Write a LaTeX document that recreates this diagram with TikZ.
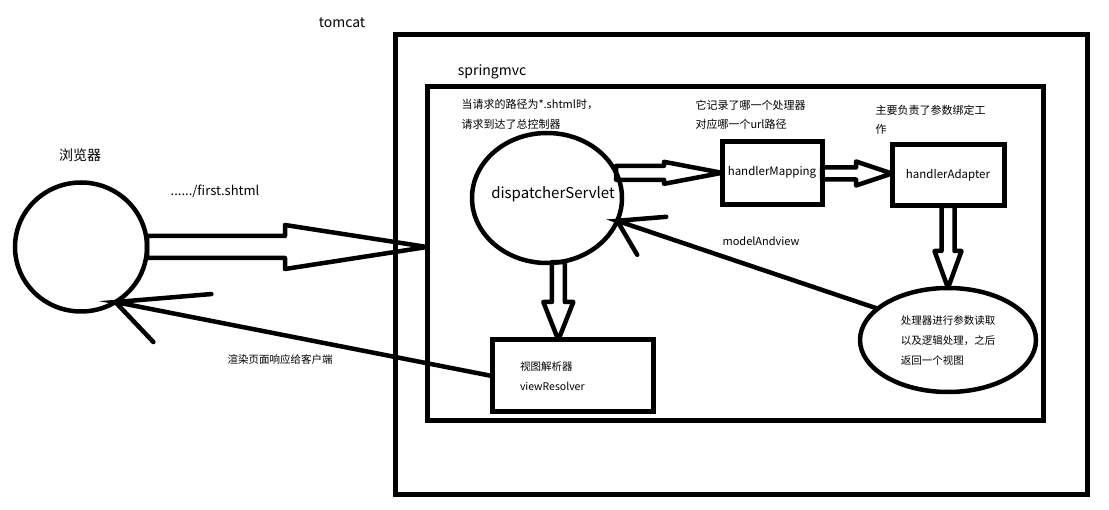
\documentclass[tikz,border=0pt]{standalone}
\usepackage{fontspec}
\setmainfont{Noto Sans CJK SC}
\usetikzlibrary{shapes.geometric,calc}

\tikzset{
  shaftw/.store in=\shaftw, headw/.store in=\headw, headl/.store in=\headl,
  shaftw=6pt, headw=12pt, headl=36pt,
  hollow/.style={draw, line width=4.5pt, line join=round, to path={
      ($(\tikztotarget)!\headl!(\tikztostart)$) coordinate (hb)
      ($(\tikztostart)!\shaftw!90:(\tikztotarget)$) -- ($(hb)!\shaftw!-90:(\tikztostart)$)
      -- ($(hb)!\headw!-90:(\tikztostart)$) -- (\tikztotarget)
      -- ($(hb)!\headw!90:(\tikztostart)$) -- ($(hb)!\shaftw!90:(\tikztostart)$)
      -- ($(\tikztostart)!\shaftw!-90:(\tikztotarget)$) -- cycle}}
}

\begin{document}
\begin{tikzpicture}[x=1pt,y=-1pt,
  pane/.style={draw, line width=5pt, inner sep=0pt, outer sep=0pt},
  box/.style={draw, line width=5pt, outer sep=0pt, font=\fontsize{11.5}{14}\selectfont},
  oval/.style={draw, ellipse, line width=4.5pt, inner sep=0pt, outer sep=0pt},
  lbl/.style={font=\fontsize{14}{17}\selectfont},
  note/.style={font=\fontsize{11}{19.5}\selectfont, align=left, anchor=west},
  wire/.style={line width=4.5pt, line cap=round}]
  \useasboundingbox (0,0) rectangle (1109,510);

  % containers
  \node[pane, minimum width=692pt, minimum height=460pt] (tomcat) at (741,265) {};
  \node[lbl] (tomcatlbl) at (342,23) {tomcat};
  \node[pane, minimum width=616pt, minimum height=334pt] (spring) at (735,254) {};
  \node[lbl] (springlbl) at (492,72) {springmvc};

  % browser side
  \node[lbl] (browserlbl) at (80,155) {浏览器};
  \node[oval, minimum width=132pt, minimum height=129pt] (browser) at (81,247) {};
  \node[font=\fontsize{13}{16}\selectfont] (url) at (215,191) {....../first.shtml};
  \node[font=\fontsize{10.5}{13}\selectfont] (renderlbl) at (280,360) {渲染页面响应给客户端};

  % springmvc parts
  \node[oval, minimum width=150pt, minimum height=130pt,
        label={[font=\fontsize{15}{17}\selectfont, xshift=6pt, yshift=4pt]center:dispatcherServlet}] (ds) at (547,198) {};
  \node[box, minimum width=100pt, minimum height=63pt, text depth=6pt] (hm) at (772,173.5) {handlerMapping};
  \node[box, minimum width=112pt, minimum height=61pt, text depth=4pt] (ha) at (948,175.5) {handlerAdapter};
  \node[oval, minimum width=176pt, minimum height=104pt, align=left,
        font=\fontsize{10.5}{20}\selectfont] (hd) at (948,340) {处理器进行参数读取\\以及逻辑处理，之后\\返回一个视图};
  \node[box, minimum width=161pt, minimum height=72pt, text width=105pt, align=left,
        font=\fontsize{10.5}{20}\selectfont] (vr) at (572.5,376) {视图解析器\\viewResolver};

  \node[note] (dsnote) at (458,114.5) {当请求的路径为*.shtml时，\\请求到达了总控制器};
  \node[note] (hmnote) at (692,115) {它记录了哪一个处理器\\对应哪一个url路径};
  \node[note] (hanote) at (872,120) {主要负责了参数绑定工\\作};
  \node[font=\fontsize{11}{13}\selectfont] (mvlbl) at (761,241) {modelAndview};

  % arrow ends
  \coordinate (urltip) at (spring.west |- browser.east);
  \coordinate (hmtip) at (ds.20 -| hm.west);
  \coordinate (hatip) at (hm.east -| ha.west);
  \coordinate (hdtip) at (ha.south |- hd.north);
  \coordinate (vrtip) at (ds.-80 |- vr.north);

  \path
    (browser.east) edge[hollow, shaftw=11pt, headw=22pt, headl=142pt] (urltip)
    (ds.20) edge[hollow, shaftw=7pt, headw=11pt, headl=58pt] (hmtip)
    (hm.east) edge[hollow] (hatip)
    (ha.south) edge[hollow, shaftw=6.5pt, headw=13.5pt, headl=37pt] (hdtip)
    (ds.-80) edge[hollow, shaftw=6.5pt, headw=15pt, headl=38pt] (vrtip);

  % model and view back to the servlet
  \draw[wire] (hd.156) -- (ds.-18) -- ++(49,-4) (ds.-18) -- ++(20,34);
  % rendered page back to the browser
  \draw[wire] (vr.west) -- (browser.-58) -- ++(96,-8) (browser.-58) -- ++(38,40);
\end{tikzpicture}
\end{document}
